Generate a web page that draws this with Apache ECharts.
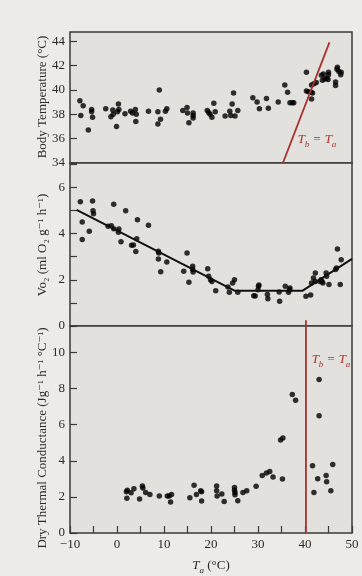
<!DOCTYPE html>
<html><head><meta charset="utf-8">
<script src="https://cdn.jsdelivr.net/npm/echarts@6/dist/echarts.min.js"></script>
<style>html,body{margin:0;padding:0;background:#ecebe8;}#c{width:362px;height:576px;}</style>
</head><body><div id="c"></div>
<script>
// ---- data (Ta °C, value) ----
const bodyTemp = [
 [-7.9,39.1],[-7.2,38.7],[-7.7,37.9],[-6.1,36.7],[-5.4,38.4],[-5.4,38.2],[-5.2,37.75],
 [-2.4,38.45],[-1.3,37.8],[-0.9,38.35],[-0.8,38.0],[0.3,38.85],[0.1,38.2],[-0.1,37.0],[0.4,38.4],
 [1.7,38.05],[2.9,38.25],[3.3,38.1],[3.9,38.4],[4.1,38.0],[4.0,37.4],
 [6.7,38.25],[8.7,38.2],[9.0,40.0],[9.25,37.6],[8.7,37.2],[10.3,38.25],[10.6,38.45],
 [14.0,38.3],[14.9,38.55],[15.0,38.1],[15.3,37.3],[16.2,38.1],[16.2,37.9],[16.2,37.7],
 [19.2,38.3],[19.5,38.15],[19.8,38.0],[20.2,37.75],[20.6,38.9],[20.9,38.2],
 [23.0,37.85],[24.0,38.25],[24.2,37.9],[24.5,38.85],[24.8,39.75],[25.1,37.85],[25.7,38.3],
 [28.9,39.35],[29.8,39.0],[30.3,38.45],[31.8,39.3],[32.2,38.5],[34.3,39.0],
 [35.7,40.4],[36.3,39.8],[36.8,38.95],[37.3,38.95],[37.6,38.95],
 [40.3,41.45],[40.3,39.9],[40.7,39.85],[41.3,39.8],[41.6,39.75],[41.4,39.25],[41.4,40.4],[41.9,40.5],[42.4,40.6],
 [43.5,41.2],[43.9,41.3],[43.7,40.8],[44.2,40.9],[44.6,40.95],[45.0,41.25],[44.9,40.85],[45.0,41.45],
 [46.5,40.65],[46.5,40.35],[46.8,41.7],[46.9,41.85],[47.2,41.5],[47.7,41.45],[47.6,41.25]
];
const equalityLine = [[35.3,34],[45.2,43.9]];

const vo2 = [
 [-7.8,5.37],[-7.4,4.5],[-7.4,3.74],[-5.9,4.1],[-5.2,5.41],[-5.1,4.99],[-5.0,4.86],
 [-1.9,4.31],[-1.2,4.34],[-0.7,5.27],[-0.7,4.21],[0.3,4.06],[0.4,4.2],[0.85,3.64],[1.85,4.99],
 [3.1,3.49],[3.5,3.5],[4.2,3.77],[4.35,4.6],[4.0,3.22],[6.7,4.36],
 [8.8,3.23],[8.9,3.16],[8.8,2.9],[9.3,2.35],[10.6,2.77],
 [14.2,2.37],[14.9,3.16],[15.3,1.89],[16.1,2.58],[16.1,2.44],[16.2,2.34],
 [19.3,2.48],[19.5,2.15],[19.9,2.0],[20.2,1.93],[21.0,1.53],
 [23.6,1.69],[23.9,1.46],[24.6,1.86],[25.0,2.0],[25.7,1.46],
 [29.1,1.31],[29.4,1.3],[30.0,1.57],[30.1,1.72],[30.2,1.77],[32.0,1.36],[32.1,1.18],
 [34.5,1.47],[34.6,1.07],[35.8,1.72],[36.5,1.46],[36.7,1.57],[36.8,1.64],
 [40.2,1.29],[41.2,1.34],[41.4,1.86],[41.8,2.08],[42.2,2.29],[42.2,1.93],[43.2,1.93],[43.4,2.0],
 [43.6,1.93],[43.8,1.86],[44.5,2.29],[44.6,2.15],[45.1,1.79],[46.5,2.44],[46.7,2.51],[46.9,3.33],
 [47.5,1.79],[47.7,2.87]
];
const vo2Fit = [[-8.6,5.02],[25,1.53],[39.5,1.53],[50,2.9]];

const conductance = [
 [2.0,2.28],[2.1,1.92],[2.2,2.37],[3.0,2.23],[3.6,2.45],[4.8,1.88],[5.4,2.61],[5.5,2.5],[6.1,2.25],
 [7.0,2.14],[9.0,2.05],[10.7,2.05],[11.1,2.05],[11.4,1.72],[11.6,2.14],
 [15.5,1.96],[16.4,2.65],[16.9,2.14],[17.8,2.34],[18.0,2.28],[18.0,1.78],
 [21.2,2.61],[21.2,2.34],[21.3,2.05],[22.3,2.16],[22.8,1.74],
 [25.0,2.52],[25.0,2.37],[25.1,2.25],[25.1,2.12],[25.7,1.79],[26.8,2.25],[27.6,2.34],
 [29.6,2.59],[30.9,3.19],[31.8,3.32],[32.5,3.41],[33.2,3.1],[35.2,2.99],[34.8,5.16],[35.3,5.27],
 [37.3,7.68],[38.0,7.35],
 [41.6,3.73],[41.9,2.25],[42.7,3.01],[43.0,8.5],[43.0,6.5],[44.5,3.19],[44.6,2.84],[45.5,2.34],[45.9,3.8]
];
const tbEqualsTa = 40.2;

const xMin = -10, xMax = 50;
const yRanges = [[34, 44.75, 2], [0, 7.05, 1], [0, 11.47, 2]];

// ---- chart ----
const RED = '#a8322d', INK = '#000000', FRAME = '#3a3a3a';
const FONT = '"Liberation Serif","DejaVu Serif",serif';
const chart = echarts.init(document.getElementById('c'));
const grids = [
  {left:70, right:10, top:32, height:131},
  {left:70, right:10, top:163, height:163},
  {left:70, right:10, top:326, height:211}
].map(g => Object.assign(g, {show:true, borderColor:FRAME, borderWidth:1.5, backgroundColor:'#e2e1de'}));

const xAxes = [0,1,2].map(i => ({
  type:'value', gridIndex:i, min:xMin, max:xMax, interval:5, position:'bottom',
  axisLine:{show:false, onZero:false}, splitLine:{show:false},
  axisTick:{show:i===2, inside:true, length:7, lineStyle:{color:FRAME, width:1.2}},
  axisLabel:{show:i===2, margin:5, color:'#2a2a2a', fontFamily:FONT, fontSize:13,
    formatter:v => (v % 10 === 0 ? String(v).replace('-', '\u2212') : '')},
  name: i===2 ? '{t|T}{s|a}{n| (°C)}' : '',
  nameLocation:'middle', nameGap:24,
  nameTextStyle:{fontFamily:FONT, color:'#2a2a2a', rich:{
    t:{fontFamily:FONT, fontStyle:'italic', fontSize:13, color:'#2a2a2a', lineHeight:18, verticalAlign:'middle'},
    s:{fontFamily:FONT, fontStyle:'italic', fontSize:9, color:'#2a2a2a', lineHeight:18, verticalAlign:'bottom'},
    n:{fontFamily:FONT, fontSize:13, color:'#2a2a2a', lineHeight:18, verticalAlign:'middle'}}}
}));

const yAxes = yRanges.map((r, i) => ({
  type:'value', gridIndex:i, min:r[0], max:r[1], interval:r[2], position:'left',
  axisLine:{show:false, onZero:false}, splitLine:{show:false},
  axisTick:{show:true, inside:true, length:7, lineStyle:{color:FRAME, width:1.2}},
  axisLabel:{margin:5, color:'#2a2a2a', fontFamily:FONT, fontSize:13, showMaxLabel:false,
    formatter:v => (Number.isInteger(v) && v % 2 === 0 ? String(v) : '')}
}));

const dot = {type:'scatter', symbolSize:5.5, itemStyle:{color:INK}, silent:true};
const seg = (color, width) => ({type:'line', symbol:'none', silent:true, lineStyle:{color, width}});

chart.setOption({
  animation:false,
  grid:grids, xAxis:xAxes, yAxis:yAxes,
  series:[
    Object.assign({}, dot, {xAxisIndex:0, yAxisIndex:0, data:bodyTemp}),
    Object.assign(seg(RED,1.8), {xAxisIndex:0, yAxisIndex:0, data:equalityLine}),
    Object.assign({}, dot, {xAxisIndex:1, yAxisIndex:1, data:vo2}),
    Object.assign(seg('#111',2), {xAxisIndex:1, yAxisIndex:1, data:vo2Fit}),
    Object.assign(seg(RED,1.8), {xAxisIndex:1, yAxisIndex:1, data:[[tbEqualsTa,0],[tbEqualsTa,0.25]]}),
    Object.assign({}, dot, {xAxisIndex:2, yAxisIndex:2, data:conductance}),
    Object.assign(seg(RED,1.8), {xAxisIndex:2, yAxisIndex:2, data:[[tbEqualsTa,0],[tbEqualsTa,yRanges[2][1]]]})
  ],
  graphic:[
    {type:'text', x:43, y:97, rotation:Math.PI/2, silent:true,
      style:{text:'Body Temperature (°C)', font:'13px '+FONT, fill:'#2a2a2a', align:'center', verticalAlign:'middle'}},
    {type:'text', x:43, y:245, rotation:Math.PI/2, silent:true,
      style:{text:'Vo\u2082 (ml O\u2082 g\u207B\u00B9 h\u207B\u00B9)', font:'13px '+FONT, fill:'#2a2a2a', align:'center', verticalAlign:'middle'}},
    {type:'text', x:43, y:438, rotation:Math.PI/2, silent:true,
      style:{text:'Dry Thermal Conductance (Jg\u207B\u00B9 h\u207B\u00B9 \u00B0C\u207B\u00B9)', font:'13px '+FONT, fill:'#2a2a2a', align:'center', verticalAlign:'middle'}},
    {type:'text', x:317, y:140, silent:true,
      style:{text:'{t|T}{s|b}{t| = T}{s|a}', align:'center', verticalAlign:'middle',
        rich:{t:{font:'italic 13px '+FONT, fill:RED, lineHeight:18, verticalAlign:'middle'},
              s:{font:'italic 9px '+FONT, fill:RED, lineHeight:18, verticalAlign:'bottom'}}}},
    {type:'text', x:331, y:360, silent:true,
      style:{text:'{t|T}{s|b}{t| = T}{s|a}', align:'center', verticalAlign:'middle',
        rich:{t:{font:'italic 13px '+FONT, fill:RED, lineHeight:18, verticalAlign:'middle'},
              s:{font:'italic 9px '+FONT, fill:RED, lineHeight:18, verticalAlign:'bottom'}}}}
  ]
});
</script></body></html>
